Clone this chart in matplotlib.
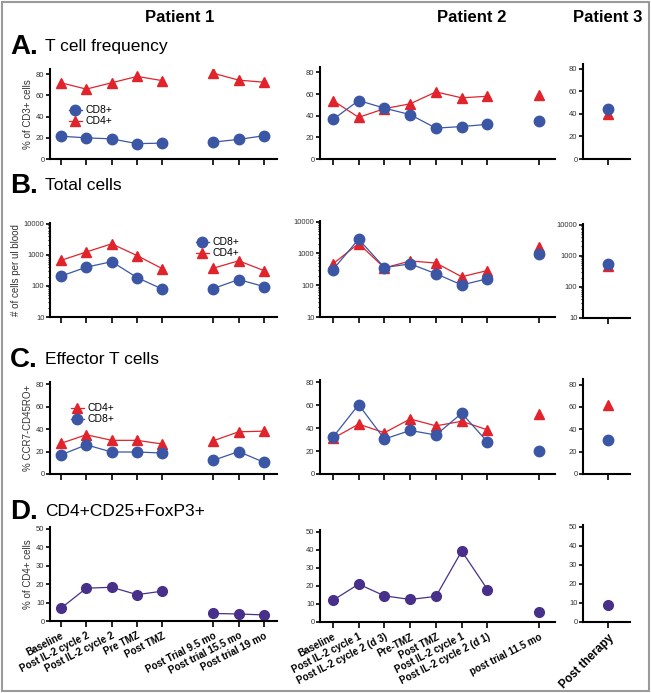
import numpy as np
import matplotlib
matplotlib.use("Agg")
import matplotlib.pyplot as plt
from matplotlib.lines import Line2D
from matplotlib.patches import Rectangle

plt.rcParams['font.family'] = ['Liberation Sans', 'DejaVu Sans']

# ======================== DATA ========================
p1_labels = ["Baseline", "Post IL-2 cycle 2", "Post IL-2 cycle 2", "Pre TMZ", "Post TMZ",
             "Post Trial 9.5 mo", "Post trial 15.5 mo", "Post trial 19 mo"]
p2_labels = ["Baseline", "Post IL-2 cycle 1", "Post IL-2 cycle 2 (d 3)", "Pre-TMZ", "Post TMZ",
             "Post IL-2 cycle 1", "Post IL-2 cycle 2 (d 1)", "post trial 11.5 mo"]
p3_labels = ["Post therapy"]

p1_x = [0, 1, 2, 3, 4, 6, 7, 8]
p2_x = [0, 1, 2, 3, 4, 5, 6, 8]
p3_x = [0]

# A. T cell frequency (% of CD3+)
p1_cd8_freq = [21.5, 20, 19, 14.5, 15, 16, 18.5, 22]
p1_cd4_freq = [72, 66, 72, 78, 74, 81, 74.5, 72.5]
p2_cd8_freq = [36.5, 54, 47, 41, 28.5, 30, 32, 35]
p2_cd4_freq = [54, 38.5, 46.5, 51, 62, 56.5, 58, 59.5]
p3_cd8_freq = [44]
p3_cd4_freq = [40]

# B. Total cells (# per ul blood)
p1_cd8_total = [205, 400, 600, 185, 78, 82, 160, 95]
p1_cd4_total = [660, 1230, 2250, 940, 355, 370, 640, 310]
p2_cd8_total = [310, 2800, 360, 470, 230, 102, 160, 930]
p2_cd4_total = [470, 2050, 350, 580, 500, 185, 290, 1550]
p3_cd8_total = [560]
p3_cd4_total = [470]

# C. Effector T cells (% CCR7-CD45RO+)
p1_cd4_eff = [27.3, 35, 30, 30, 26.7, 29.6, 37.6, 38.2]
p1_cd8_eff = [17, 26, 19.6, 19.6, 18.7, 12.2, 20, 10.4]
p2_cd4_eff = [31, 43.5, 36, 48, 42, 46, 38.5, 52]
p2_cd8_eff = [32, 60.5, 30.5, 38, 34, 53, 28, 20]
p3_cd4_eff = [61.5]
p3_cd8_eff = [30]

# D. CD4+CD25+FoxP3+ (% of CD4+)
p1_treg = [6.9, 17.8, 18.3, 14.3, 16.2, 4.1, 3.8, 3.3]
p2_treg = [12, 21, 14.5, 12.5, 14.2, 39.3, 18, 5.4]
p3_treg = [9.2]

# ======================== STYLE ========================
BLUE = "#3a56a5"
RED = "#e1232b"
PURPLE = "#48308a"
W, H = 651, 693

fig = plt.figure(figsize=(W / 100, H / 100), dpi=100)


def px_axes(x0, y0, x1, y1):
    ax = fig.add_axes([x0 / W, 1 - y1 / H, (x1 - x0) / W, (y1 - y0) / H])
    for s in ["top", "right"]:
        ax.spines[s].set_visible(False)
    for s in ["left", "bottom"]:
        ax.spines[s].set_linewidth(1.5)
    ax.tick_params(axis="both", direction="out", length=3, width=1.2, labelsize=5.5,
                   labelcolor="#333333", pad=1)
    ax.tick_params(axis="x", length=4)
    return ax


def draw(ax, xs, ys, color, marker, ms, split):
    # connect points within each group, groups split at index "split"
    xs = np.asarray(xs, dtype=float)
    ys = np.asarray(ys, dtype=float)
    for a, b in [(0, split), (split, len(xs))]:
        ax.plot(xs[a:b], ys[a:b], color=color, lw=0.9, marker=marker, ms=ms,
                markeredgecolor=color, markerfacecolor=color)


# column pixel extents and x limits
cols = {
    1: dict(x0=50, x1=277, xlim=(-0.43, 8.51), xs=p1_x, split=5, labels=p1_labels),
    2: dict(x0=320, x1=555, xlim=(-0.5, 8.62), xs=p2_x, split=7, labels=p2_labels),
    3: dict(x0=583, x1=630, xlim=(-1.0, 0.88), xs=p3_x, split=1, labels=p3_labels),
}

# rows: pixel top/bottom per column and y limits
rows = {
    "A": {1: (69, 159, 85), 2: (67, 159, 85), 3: (64, 159, 84)},
    "B": {1: (223, 317, 10500), 2: (221, 317, 10500), 3: (224, 318, 10500)},
    "C": {1: (382, 474, 82), 2: (380, 474, 82), 3: (379, 474, 85)},
    "D": {1: (527, 621, 51), 2: (530, 622, 51), 3: (525, 622, 51)},
}

series = {
    "A": {1: (p1_cd8_freq, p1_cd4_freq), 2: (p2_cd8_freq, p2_cd4_freq), 3: (p3_cd8_freq, p3_cd4_freq)},
    "B": {1: (p1_cd8_total, p1_cd4_total), 2: (p2_cd8_total, p2_cd4_total), 3: (p3_cd8_total, p3_cd4_total)},
    "C": {1: (p1_cd8_eff, p1_cd4_eff), 2: (p2_cd8_eff, p2_cd4_eff), 3: (p3_cd8_eff, p3_cd4_eff)},
    "D": {1: (p1_treg,), 2: (p2_treg,), 3: (p3_treg,)},
}

ylabels = {"A": "% of CD3+ cells", "B": "# of cells per ul blood",
           "C": "% CCR7-CD45RO+", "D": "% of CD4+ cells"}

axes = {}
for row in "ABCD":
    for c in (1, 2, 3):
        col = cols[c]
        top, bot, ymax = rows[row][c]
        ax = px_axes(col["x0"], top, col["x1"], bot)
        axes[(row, c)] = ax
        ax.set_xlim(*col["xlim"])
        ax.set_xticks(col["xs"])
        if row == "B":
            ax.set_yscale("log")
            ax.set_ylim(10, ymax)
            ax.set_yticks([10, 100, 1000, 10000])
            ax.set_yticklabels(["10", "100", "1000", "10000"])
            ax.tick_params(axis="y", which="minor", length=1.5, width=0.8)
        elif row == "D":
            ax.set_ylim(0, ymax)
            ax.set_yticks([0, 10, 20, 30, 40, 50])
        else:
            ax.set_ylim(0, ymax)
            ax.set_yticks([0, 20, 40, 60, 80])

        data = series[row][c]
        if row == "D":
            draw(ax, col["xs"], data[0], PURPLE, "o", 7, col["split"])
        else:
            draw(ax, col["xs"], data[1], RED, "^", 7, col["split"])
            draw(ax, col["xs"], data[0], BLUE, "o", 7.5, col["split"])

        if row == "D":
            if c == 3:
                ax.set_xticklabels(col["labels"], rotation=45, ha="right",
                                   rotation_mode="anchor", fontsize=8.5, fontweight="bold",
                                   color="black")
            else:
                ax.set_xticklabels(col["labels"], rotation=27, ha="right",
                                   rotation_mode="anchor", fontsize=7, fontweight="bold",
                                   color="black")
            ax.tick_params(axis="x", pad=3)
        else:
            ax.set_xticklabels([])

        if c == 1:
            ax.set_ylabel(ylabels[row], fontsize=7, color="#333333", labelpad=2)

# legends
cd8_h = Line2D([], [], color=BLUE, lw=0.9, marker="o", ms=7.5)
cd4_h = Line2D([], [], color=RED, lw=0.9, marker="^", ms=7)
leg_kw = dict(frameon=False, fontsize=7.5, handlelength=1.2, handletextpad=0.4,
              labelspacing=0.1, borderpad=0, loc="upper left", bbox_transform=fig.transFigure)
axes[("A", 1)].legend([cd8_h, cd4_h], ["CD8+", "CD4+"],
                      bbox_to_anchor=(64 / W, 1 - 100 / H), **leg_kw)
axes[("B", 1)].legend([cd8_h, cd4_h], ["CD8+", "CD4+"],
                      bbox_to_anchor=(191 / W, 1 - 232 / H), **leg_kw)
axes[("C", 1)].legend([cd4_h, cd8_h], ["CD4+", "CD8+"],
                      bbox_to_anchor=(66 / W, 1 - 398 / H), **leg_kw)

# patient headers
for x, name in [(180, "Patient 1"), (472, "Patient 2"), (608, "Patient 3")]:
    fig.text(x / W, 1 - 18 / H, name, ha="center", va="center", fontsize=12, fontweight="bold")

# panel titles
titles = [("A.", "T cell frequency", 47), ("B.", "Total cells", 186),
          ("C.", "Effector T cells", 360), ("D.", "CD4+CD25+FoxP3+", 512)]
for letter, title, y in titles:
    fig.text(10 / W, 1 - y / H, letter, ha="left", va="center", fontsize=20, fontweight="bold")
    fig.text(45 / W, 1 - (y - 1) / H, title, ha="left", va="center", fontsize=12.5)

# grey frame round the whole figure
fig.patches.append(Rectangle((2 / W, 2 / H), (W - 4) / W, (H - 4) / H, transform=fig.transFigure,
                             fill=False, edgecolor="#9a9a9a", linewidth=1.5))

plt.savefig("out.png", dpi=100)
